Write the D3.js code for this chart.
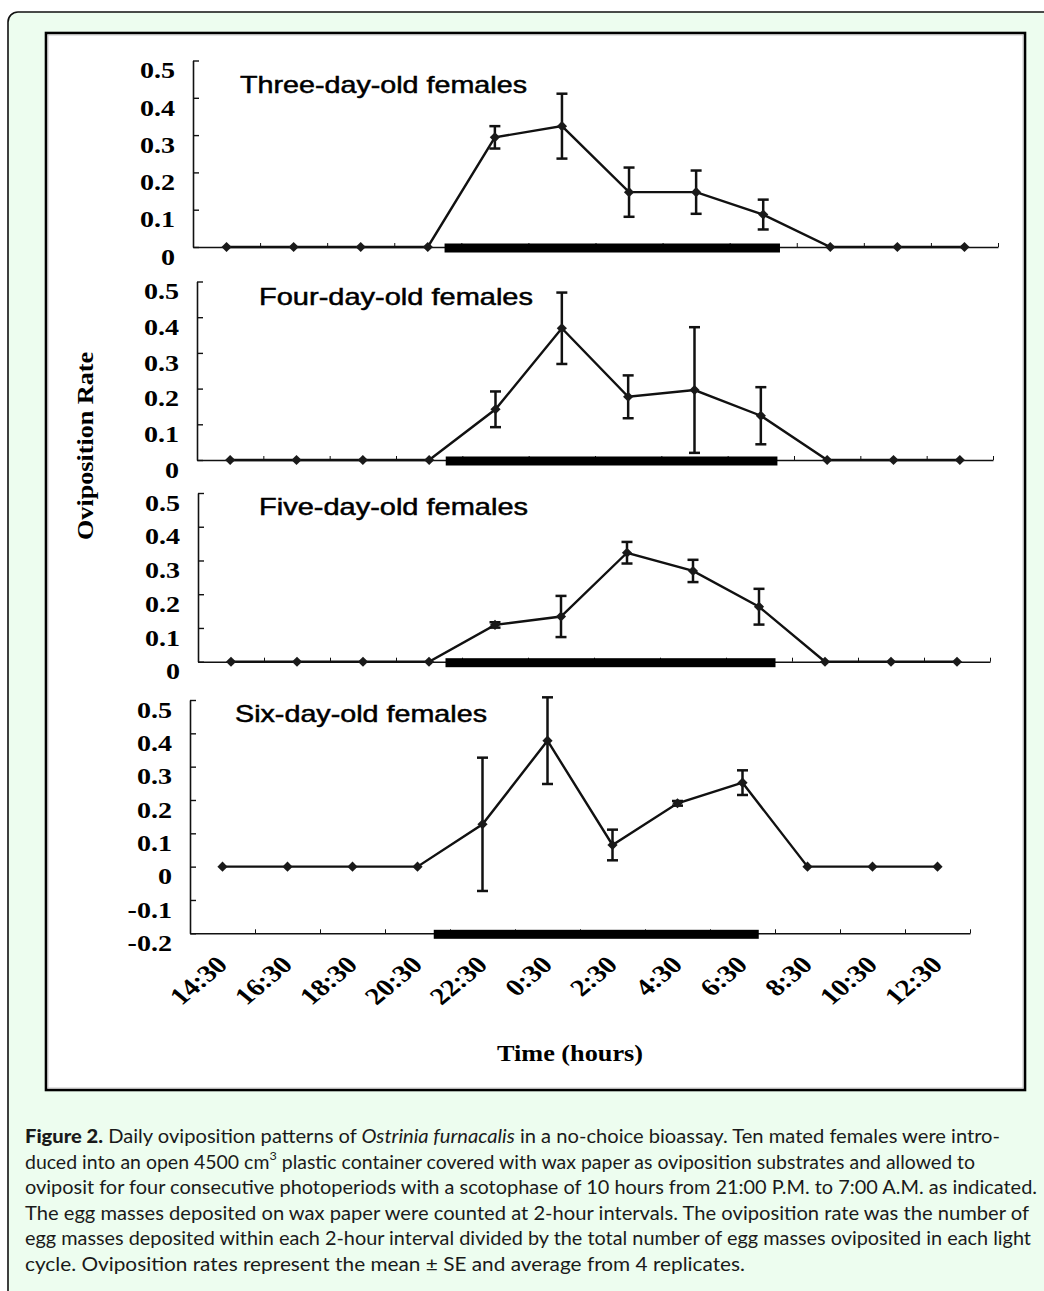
<!DOCTYPE html>
<html>
<head>
<meta charset="utf-8">
<script src="https://cdn.jsdelivr.net/npm/d3@7"></script>
<style>
  body { margin: 0; background: #fff; }
  svg { display: block; }
</style>
</head>
<body>
<svg id="chart" width="1044" height="1291"></svg>
<script>
"use strict";

//data

const times = ["14:30", "16:30", "18:30", "20:30", "22:30", "0:30", "2:30", "4:30", "6:30", "8:30", "10:30", "12:30"];
const panelTitles = ["Three-day-old females", "Four-day-old females", "Five-day-old females", "Six-day-old females"];

const threeDayRate = [0, 0, 0, 0, 0.294, 0.324, 0.147, 0.147, 0.087, 0, 0, 0];
const threeDaySE = [0, 0, 0, 0, 0.03, 0.087, 0.066, 0.058, 0.04, 0, 0, 0];
const fourDayRate = [0, 0, 0, 0, 0.142, 0.369, 0.177, 0.196, 0.124, 0, 0, 0];
const fourDaySE = [0, 0, 0, 0, 0.05, 0.1, 0.06, 0.176, 0.08, 0, 0, 0];
const fiveDayRate = [0, 0, 0, 0, 0.109, 0.134, 0.323, 0.269, 0.163, 0, 0, 0];
const fiveDaySE = [0, 0, 0, 0, 0.008, 0.061, 0.032, 0.033, 0.053, 0, 0, 0];
const sixDayRate = [0, 0, 0, 0, 0.127, 0.378, 0.065, 0.19, 0.252, 0, 0, 0];
const sixDaySE = [0, 0, 0, 0, 0.2, 0.13, 0.046, 0.007, 0.037, 0, 0, 0];

const scotophase = ["21:00", "7:00"];
const yTicksTop = [0, 0.1, 0.2, 0.3, 0.4, 0.5];
const yTicksBottom = [-0.2, -0.1, 0, 0.1, 0.2, 0.3, 0.4, 0.5];

//layout

const panels = [
  { rate: threeDayRate, se: threeDaySE, ticks: yTicksTop, left: 193, right: 998, top: 60.5, bottom: 247, tx: 240, ty: 93, tw: 287 },
  { rate: fourDayRate, se: fourDaySE, ticks: yTicksTop, left: 197, right: 993, top: 281.5, bottom: 460, tx: 259, ty: 305, tw: 274 },
  { rate: fiveDayRate, se: fiveDaySE, ticks: yTicksTop, left: 198, right: 990, top: 493, bottom: 661.7, tx: 259, ty: 515, tw: 269 },
  { rate: sixDayRate, se: sixDaySE, ticks: yTicksBottom, left: 190, right: 970, top: 700, bottom: 933.3, tx: 235, ty: 722, tw: 252 }
];

//hours counted from 13:30

const hoursFrom = (s) => {
  const [h, m] = s.split(":").map(Number);
  return ((h + m / 60) - 13.5 + 24) % 24;
};

const serif = "'Liberation Serif', 'Times New Roman', serif";
const sans = "'Liberation Sans', Arial, sans-serif";
const ink = "#111";

const svg = d3.select("#chart");

//frame

svg.append("rect")
  .attr("x", 8).attr("y", 12)
  .attr("width", 1100).attr("height", 1400)
  .attr("rx", 10)
  .attr("fill", "#edfdef")
  .attr("stroke", "#111")
  .attr("stroke-width", 1.6);

svg.append("rect")
  .attr("x", 46).attr("y", 33)
  .attr("width", 979).attr("height", 1057)
  .attr("fill", "#fff")
  .attr("stroke", "#000")
  .attr("stroke-width", 2.6);

svg.append("rect")
  .attr("x", 48).attr("y", 35)
  .attr("width", 975).attr("height", 1053)
  .attr("fill", "none")
  .attr("stroke", "#bbb")
  .attr("stroke-width", 0.8);

//stretch helper

const stretch = (sel, k) => sel.each(function () {
  const w = this.getComputedTextLength();
  this.setAttribute("textLength", w * k);
  this.setAttribute("lengthAdjust", "spacingAndGlyphs");
});

const marker = d3.symbol(d3.symbolDiamond, 46);

//panels

panels.forEach((p, k) => {

  const min = d3.min(p.ticks);
  const max = d3.max(p.ticks);

  const x = d3.scaleLinear().domain([0, 24]).range([p.left, p.right]);
  const y = d3.scaleLinear().domain([min, max]).range([p.bottom, p.top]);

  const g = svg.append("g");

  //y axis

  const ya = g.append("g")
    .attr("transform", `translate(${p.left},0)`)
    .call(d3.axisLeft(y)
      .tickValues(p.ticks)
      .tickSizeInner(-6)
      .tickSizeOuter(0)
      .tickPadding(18)
      .tickFormat((d) => String(d)));

  ya.select(".domain").attr("stroke", ink).attr("stroke-width", 1.6);
  ya.selectAll(".tick line").attr("stroke", ink).attr("stroke-width", 1.4);
  ya.selectAll(".tick text")
    .attr("dy", "0.75em")
    .attr("fill", "#000")
    .style("font-family", serif)
    .style("font-weight", "bold")
    .style("font-size", "23px");
  stretch(ya.selectAll(".tick text"), 1.22);

  //x axis

  const xa = g.append("g")
    .attr("transform", `translate(0,${y(min)})`)
    .call(d3.axisBottom(x)
      .tickValues(d3.range(0, 25, 2))
      .tickSizeInner(-4)
      .tickSizeOuter(0)
      .tickFormat(""));

  xa.select(".domain").attr("stroke", ink).attr("stroke-width", 1.6);
  xa.selectAll(".tick line").attr("stroke", ink).attr("stroke-width", 1);

  //scotophase bar

  g.append("rect")
    .attr("x", x(hoursFrom(scotophase[0])))
    .attr("width", x(hoursFrom(scotophase[1])) - x(hoursFrom(scotophase[0])))
    .attr("y", y(min) - 3.5)
    .attr("height", 9)
    .attr("fill", "#000");

  const pts = p.rate.map((v, i) => ({ t: hoursFrom(times[i]), v, se: p.se[i] }));

  //error bars

  const eb = g.append("g")
    .selectAll("g")
    .data(pts.filter((d) => d.se > 0))
    .join("g")
    .attr("stroke", ink)
    .attr("stroke-width", 2.5);

  eb.append("line")
    .attr("x1", (d) => x(d.t)).attr("x2", (d) => x(d.t))
    .attr("y1", (d) => y(d.v + d.se)).attr("y2", (d) => y(d.v - d.se));

  eb.append("line")
    .attr("x1", (d) => x(d.t) - 5.5).attr("x2", (d) => x(d.t) + 5.5)
    .attr("y1", (d) => y(d.v + d.se)).attr("y2", (d) => y(d.v + d.se));

  eb.append("line")
    .attr("x1", (d) => x(d.t) - 5.5).attr("x2", (d) => x(d.t) + 5.5)
    .attr("y1", (d) => y(d.v - d.se)).attr("y2", (d) => y(d.v - d.se));

  //line and markers

  g.append("path")
    .datum(pts)
    .attr("fill", "none")
    .attr("stroke", ink)
    .attr("stroke-width", 2.4)
    .attr("d", d3.line().x((d) => x(d.t)).y((d) => y(d.v)));

  g.append("g")
    .selectAll("path")
    .data(pts)
    .join("path")
    .attr("d", marker)
    .attr("fill", "#1a1a1a")
    .attr("transform", (d) => `translate(${x(d.t)},${y(d.v)}) scale(1.4,0.8)`);

  //title

  g.append("text")
    .attr("x", p.tx)
    .attr("y", p.ty)
    .attr("textLength", p.tw)
    .attr("lengthAdjust", "spacingAndGlyphs")
    .style("font-family", sans)
    .style("font-size", "24px")
    .attr("fill", "#000")
    .attr("stroke", "#000")
    .attr("stroke-width", 0.5)
    .text(panelTitles[k]);

  //time labels under last panel

  if (k === panels.length - 1) {

    const la = g.append("g")
      .attr("transform", `translate(6,${p.bottom + 33})`)
      .call(d3.axisBottom(x)
        .tickValues(pts.map((d) => d.t))
        .tickSize(0)
        .tickFormat((d, i) => times[i]));

    la.select(".domain").remove();
    la.selectAll(".tick text")
      .attr("y", 0)
      .attr("dy", 0)
      .attr("text-anchor", "end")
      .attr("transform", "scale(1.2,1) rotate(-45)")
      .attr("fill", "#000")
      .style("font-family", serif)
      .style("font-weight", "bold")
      .style("font-size", "24px");

  }

});

//axis titles

svg.append("text")
  .attr("transform", "translate(93,446) rotate(-90)")
  .attr("text-anchor", "middle")
  .attr("textLength", 188)
  .attr("lengthAdjust", "spacingAndGlyphs")
  .style("font-family", serif)
  .style("font-weight", "bold")
  .style("font-size", "24px")
  .text("Oviposition Rate");

svg.append("text")
  .attr("x", 570)
  .attr("y", 1061)
  .attr("text-anchor", "middle")
  .attr("textLength", 146)
  .attr("lengthAdjust", "spacingAndGlyphs")
  .style("font-family", serif)
  .style("font-weight", "bold")
  .style("font-size", "24px")
  .text("Time (hours)");

//caption

const captionLines = [
  [["b", "Figure 2."], ["n", " Daily oviposition patterns of "], ["i", "Ostrinia furnacalis"], ["n", " in a no-choice bioassay. Ten mated females were intro-"]],
  [["n", "duced into an open 4500 cm"], ["sup", "3"], ["n", " plastic container covered with wax paper as oviposition substrates and allowed to"]],
  [["n", "oviposit for four consecutive photoperiods with a scotophase of 10 hours from 21:00 P.M. to 7:00 A.M. as indicated."]],
  [["n", "The egg masses deposited on wax paper were counted at 2-hour intervals. The oviposition rate was the number of"]],
  [["n", "egg masses deposited within each 2-hour interval divided by the total number of egg masses oviposited in each light"]],
  [["n", "cycle. Oviposition rates represent the mean \u00b1 SE and average from 4 replicates."]]
];
const captionWidths = [975, 950, 1012, 1004, 1006, 720];

captionLines.forEach((line, i) => {

  const t = svg.append("text")
    .attr("x", 25)
    .attr("y", 1143 + i * 25.5)
    .attr("textLength", captionWidths[i])
    .attr("lengthAdjust", "spacingAndGlyphs")
    .style("font-family", "Lato, 'Open Sans', sans-serif")
    .style("font-size", "18.5px")
    .attr("fill", "#1a1a1a");

  let shift = 0;

  line.forEach(([kind, str]) => {
    const s = t.append("tspan").text(str);
    if (kind === "b") s.style("font-weight", "900");
    if (kind === "i") s.style("font-style", "italic");
    if (kind === "sup") {
      s.attr("dy", -9).style("font-size", "12px");
      shift = 9;
    } else if (shift) {
      s.attr("dy", shift);
      shift = 0;
    }
  });

});
</script>
</body>
</html>
